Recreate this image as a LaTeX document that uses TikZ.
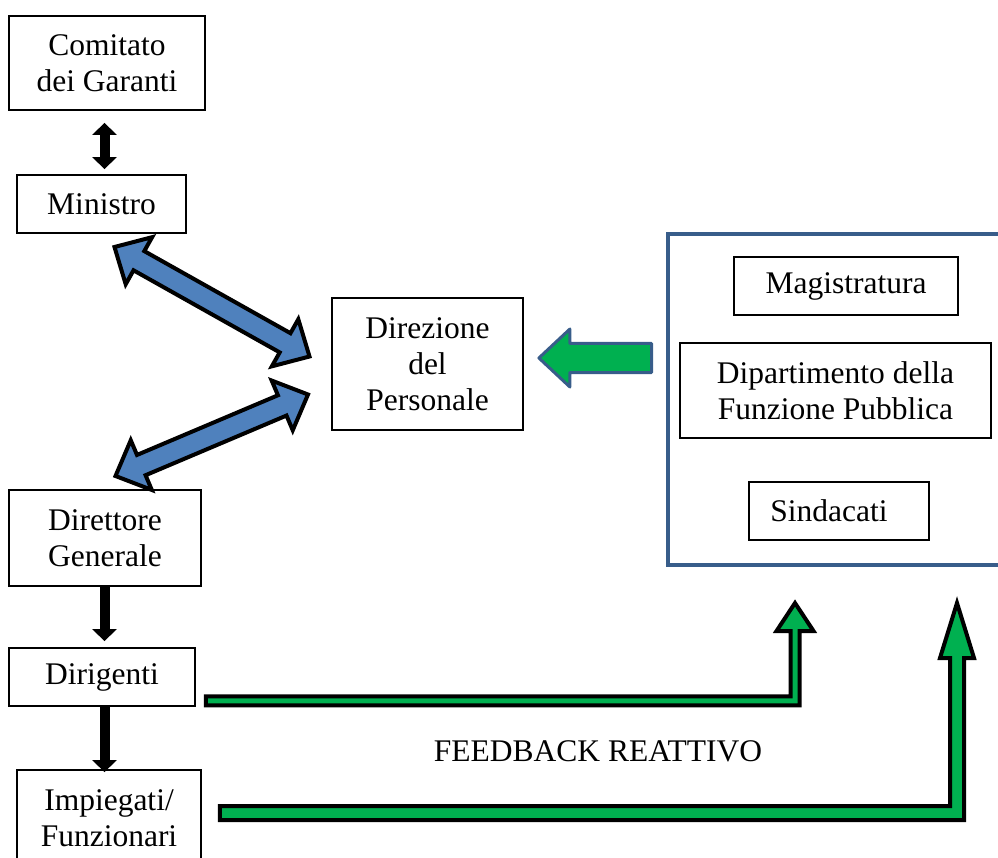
\documentclass[tikz,border=0pt]{standalone}
\usepackage{fontspec}
\setmainfont{Liberation Serif}
\usetikzlibrary{calc,arrows.meta}
\definecolor{boxblue}{RGB}{56,93,138}
\definecolor{arrowblue}{RGB}{79,129,189}
\definecolor{fbgreen}{RGB}{0,176,80}
\newcommand\blockdbl[5]{%
  \coordinate (#1-p) at ($(#1)!#5!(#2)$);
  \coordinate (#1-q) at ($(#2)!#5!(#1)$);
  \filldraw[bluearrow] (#1) -- ($(#1-p)!#4!90:(#2)$) -- ($(#1-p)!#3!90:(#2)$)
    -- ($(#1-q)!#3!-90:(#1)$) -- ($(#1-q)!#4!-90:(#1)$) -- (#2)
    -- ($(#1-q)!#4!90:(#1)$) -- ($(#1-q)!#3!90:(#1)$)
    -- ($(#1-p)!#3!-90:(#2)$) -- ($(#1-p)!#4!-90:(#2)$) -- cycle;}
\begin{document}
\begin{tikzpicture}[x=1pt,y=-1pt,
  box/.style={draw=black, line width=1.8pt, fill=white, inner sep=0pt, align=center,
    font=\fontsize{31.5}{36}\selectfont},
  container/.style={draw=boxblue, line width=4pt, inner sep=0pt},
  lbl/.style={inner sep=0pt, font=\fontsize{31.5}{36}\selectfont},
  blkdbl/.style={draw=black, line width=10pt,
    {Triangle[width=24pt,length=12pt]}-{Triangle[width=24pt,length=12pt]}},
  blkone/.style={draw=black, line width=10pt, -{Triangle[width=24pt,length=12pt]}},
  bluearrow/.style={fill=arrowblue, draw=black, line width=4pt, line join=miter},
  fbarrow/.style={fill=fbgreen, draw=black, line width=4pt, line join=miter},
  leftarrow/.style={fill=fbgreen, draw=boxblue, line width=3pt, line join=round}]
\useasboundingbox (0,0) rectangle (998,858);

% container
\node[container, minimum width=342pt, minimum height=331pt] (esterni) at (839,399.5) {};

% nodes
\node[box, minimum width=196pt, minimum height=94pt] (comitato) at (107,63) {Comitato\\dei Garanti};
\node[box, minimum width=169pt, minimum height=58pt] (ministro) at (101.5,204) {Ministro};
\node[box, minimum width=191pt, minimum height=132pt] (direzione) at (427.5,364) {Direzione\\del\\Personale};
\node[box, minimum width=192pt, minimum height=96pt] (direttore) at (105,538) {Direttore\\Generale};
\node[box, minimum width=186pt, minimum height=58pt] (dirigenti) at (102,677) {Dirigenti};
\node[box, minimum width=184pt, minimum height=96pt] (impiegati) at (109,818) {Impiegati/\\Funzionari};
\node[box, minimum width=224pt, minimum height=58pt] (magistratura) at (846,286) {Magistratura};
\node[box, minimum width=311pt, minimum height=95pt] (dipartimento) at (835.5,390.5) {Dipartimento della\\Funzione Pubblica};
\node[box, minimum width=180pt, minimum height=58pt] (sindacati) at (839,511) {Sindacati\hspace*{20pt}};
\node[lbl] (feedback) at (598,751) {FEEDBACK REATTIVO};

% black arrows
\coordinate (axis) at (104.5,0);
\draw[blkdbl] ($(comitato.south-|axis)+(0,12)$) -- ($(ministro.north-|axis)+(0,-5)$);
\draw[blkone] (direttore.south-|axis) -- ($(dirigenti.north-|axis)+(0,-6)$);
\draw[blkone] (dirigenti.south-|axis) -- ($(impiegati.north-|axis)+(0,3)$);

% blue double block arrows
\coordinate (ba) at (114.5,247);
\coordinate (bb) at (309.5,356.5);
\blockdbl{ba}{bb}{11pt}{27pt}{28pt}
\coordinate (bc) at (115.5,476);
\coordinate (bd) at (308,394.5);
\blockdbl{bc}{bd}{11pt}{27pt}{28pt}

% green left arrow
\coordinate (g1) at ([xshift=15pt,yshift=6pt]direzione.east);
\coordinate (g2) at ($(esterni.west|-g1)+(-14.5pt,0)$);
\filldraw[leftarrow] let \p1=(g1), \p2=(g2) in
  (\x1,\y1) -- (\x1+31pt,\y1+29pt) -- (\x1+31pt,\y1+14.5pt) -- (\x2,\y1+14.5pt)
  -- (\x2,\y1-14.5pt) -- (\x1+31pt,\y1-14.5pt) -- (\x1+31pt,\y1-29pt) -- cycle;

% feedback arrows
\coordinate (fb1s) at ([xshift=10pt,yshift=6pt]dirigenti.south east);
\coordinate (fb1t) at ([xshift=129pt,yshift=-36pt]esterni.south west);
\filldraw[fbarrow] let \p1=(fb1s), \p2=(fb1t) in
  (\x1,\y1+4.5pt) -- (\x2-4.5pt,\y1+4.5pt) -- (\x2-4.5pt,\y2-28pt) -- (\x2-18.5pt,\y2-28pt)
  -- (\x2,\y2) -- (\x2+18.5pt,\y2-28pt) -- (\x2+4.5pt,\y2-28pt) -- (\x2+4.5pt,\y1-4.5pt)
  -- (\x1,\y1-4.5pt) -- cycle;
\coordinate (fb2s) at ([xshift=18pt,yshift=-44pt]impiegati.north east);
\coordinate (fb2t) at ([xshift=291pt,yshift=-36pt]esterni.south west);
\filldraw[fbarrow] let \p1=(fb2s), \p2=(fb2t) in
  (\x1,\y1+7pt) -- (\x2-7pt,\y1+7pt) -- (\x2-7pt,\y2-55pt) -- (\x2-17pt,\y2-55pt)
  -- (\x2,\y2) -- (\x2+17pt,\y2-55pt) -- (\x2+7pt,\y2-55pt) -- (\x2+7pt,\y1-7pt)
  -- (\x1,\y1-7pt) -- cycle;
\end{tikzpicture}
\end{document}
